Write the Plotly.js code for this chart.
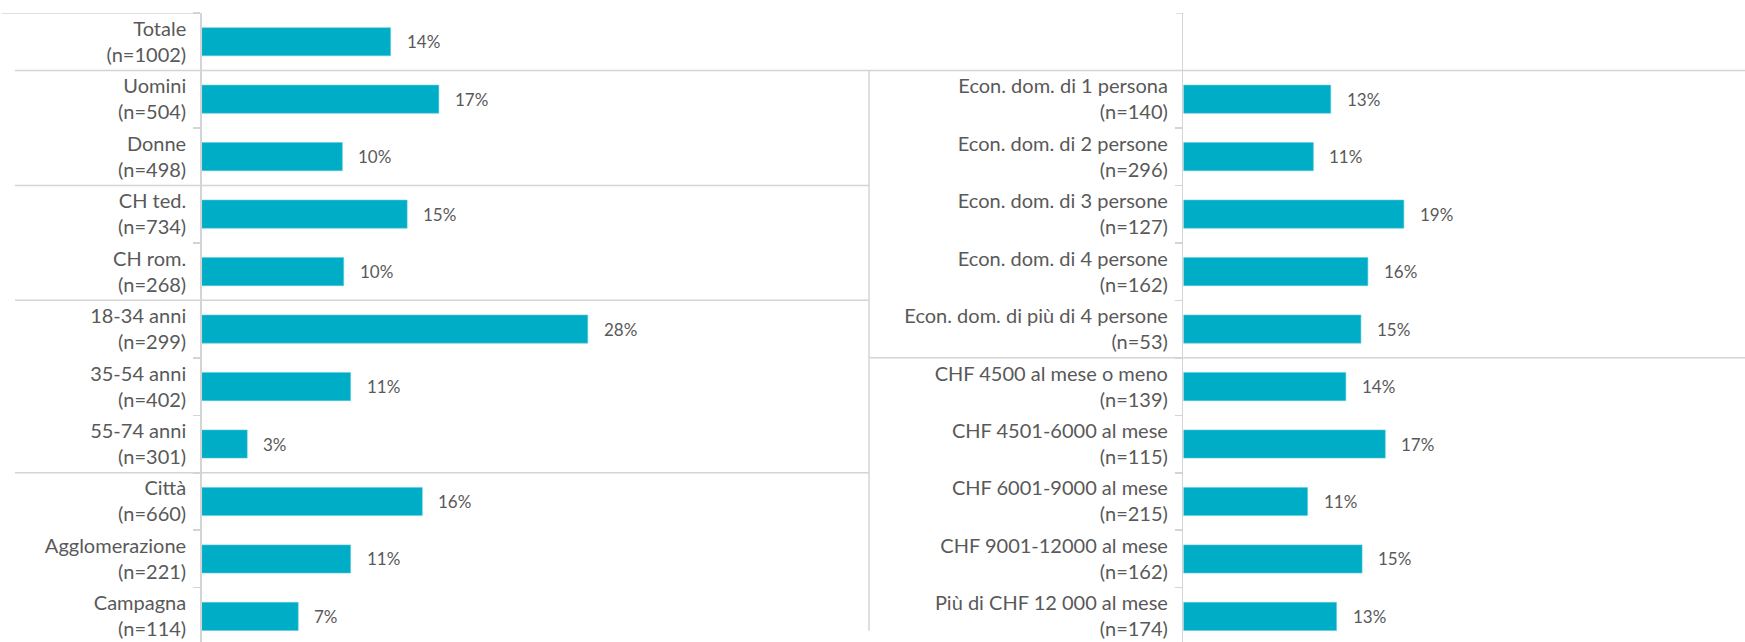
<!DOCTYPE html>
<html>
<head>
<meta charset="utf-8">
<script src="https://cdn.plot.ly/plotly-3.0.1.min.js"></script>
<style>html,body{margin:0;padding:0;background:#fff;}#chart{width:1745px;height:642px;}</style>
</head>
<body>
<div id="chart"></div>
<script>
// ---- data ----
const leftCats = ['Totale','Uomini','Donne','CH ted.','CH rom.','18-34 anni','35-54 anni','55-74 anni','Città','Agglomerazione','Campagna'];
const leftN = [1002,504,498,734,268,299,402,301,660,221,114];
const leftValues = [13.7,17.2,10.2,14.9,10.3,28.0,10.8,3.3,16.0,10.8,7.0];

const rightCats = ['Econ. dom. di 1 persona','Econ. dom. di 2 persone','Econ. dom. di 3 persone','Econ. dom. di 4 persone','Econ. dom. di più di 4 persone','CHF 4500 al mese o meno','CHF 4501-6000 al mese','CHF 6001-9000 al mese','CHF 9001-12000 al mese','Più di CHF 12 000 al mese'];
const rightN = [140,296,127,162,53,139,115,215,162,174];
const rightValues = [12.7,11.2,19.0,15.9,15.3,14.0,17.4,10.7,15.4,13.2];

// ---- styling ----
const W = 1745, H = 642;
const BAR = '#00ADC6';
const TXT = '#595959';
const LINE = '#d4d4d4';
const FONT = 'Lato, "Open Sans", sans-serif';

const leftLabels = leftCats.map((c,i)=> c + '<br>(n=' + leftN[i] + ')');
const rightLabels = rightCats.map((c,i)=> c + '<br>(n=' + rightN[i] + ')');

const traces = [
  {type:'bar', orientation:'h', x:leftValues, y:leftLabels, xaxis:'x', yaxis:'y',
   marker:{color:BAR, line:{color:'#5fcbdc', width:0.6}}, hoverinfo:'skip'},
  {type:'bar', orientation:'h', x:rightValues, y:rightLabels, xaxis:'x2', yaxis:'y2',
   marker:{color:BAR, line:{color:'#5fcbdc', width:0.6}}, hoverinfo:'skip'}
];

const annotations = [];
leftValues.forEach((v,i)=>annotations.push({x:v, y:leftLabels[i], xref:'x', yref:'y', text:Math.round(v)+'%',
  showarrow:false, xanchor:'left', yanchor:'middle', xshift:14, font:{family:FONT, size:17, color:TXT}}));
rightValues.forEach((v,i)=>annotations.push({x:v, y:rightLabels[i], xref:'x2', yref:'y2', text:Math.round(v)+'%',
  showarrow:false, xanchor:'left', yanchor:'middle', xshift:14, font:{family:FONT, size:17, color:TXT}}));

const px = v => v / W;
const hline = (y, x0, x1) => ({type:'line', xref:'paper', yref:'y', x0:px(x0), x1:px(x1), y0:y, y1:y, line:{color:LINE, width:1.5}});
const shapes = [
  hline(-0.5, 2, 201.7),
  hline(0.5, 15, W),
  hline(2.5, 15, 869),
  hline(4.5, 15, 869),
  hline(7.5, 15, 869),
  hline(5.5, 869, W),
  hline(-0.5, 1176, 1183.4),
  {type:'line', xref:'paper', yref:'y', x0:px(869), x1:px(869), y0:0.5, y1:10.25, line:{color:LINE, width:1.5}}
];

const axisY = {
  type:'category', showline:true, linecolor:LINE, linewidth:1.5,
  ticks:'outside', tickson:'boundaries', ticklen:7, tickcolor:LINE, tickwidth:1.5,
  showgrid:false, zeroline:false, fixedrange:true,
  tickfont:{family:FONT, size:20, color:TXT}, ticklabelstandoff:10
};

const layout = {
  width:W, height:H, margin:{l:0, r:0, t:13, b:0, pad:0},
  paper_bgcolor:'#fff', plot_bgcolor:'rgba(0,0,0,0)',
  showlegend:false, bargap:0.51,
  xaxis:{domain:[px(201.7), px(869)], range:[0,48.4], visible:false, fixedrange:true},
  yaxis:Object.assign({}, axisY, {anchor:'x', categoryarray:leftLabels, categoryorder:'array', range:[10.445,-0.5]}),
  xaxis2:{domain:[px(1183.4), 1], range:[0,48.4], visible:false, fixedrange:true},
  yaxis2:Object.assign({}, axisY, {anchor:'x2', categoryarray:rightLabels, categoryorder:'array', range:[9.445,-1.5]}),
  shapes:shapes,
  annotations:annotations
};

Plotly.newPlot('chart', traces, layout, {displayModeBar:false, staticPlot:true});
</script>
</body>
</html>
